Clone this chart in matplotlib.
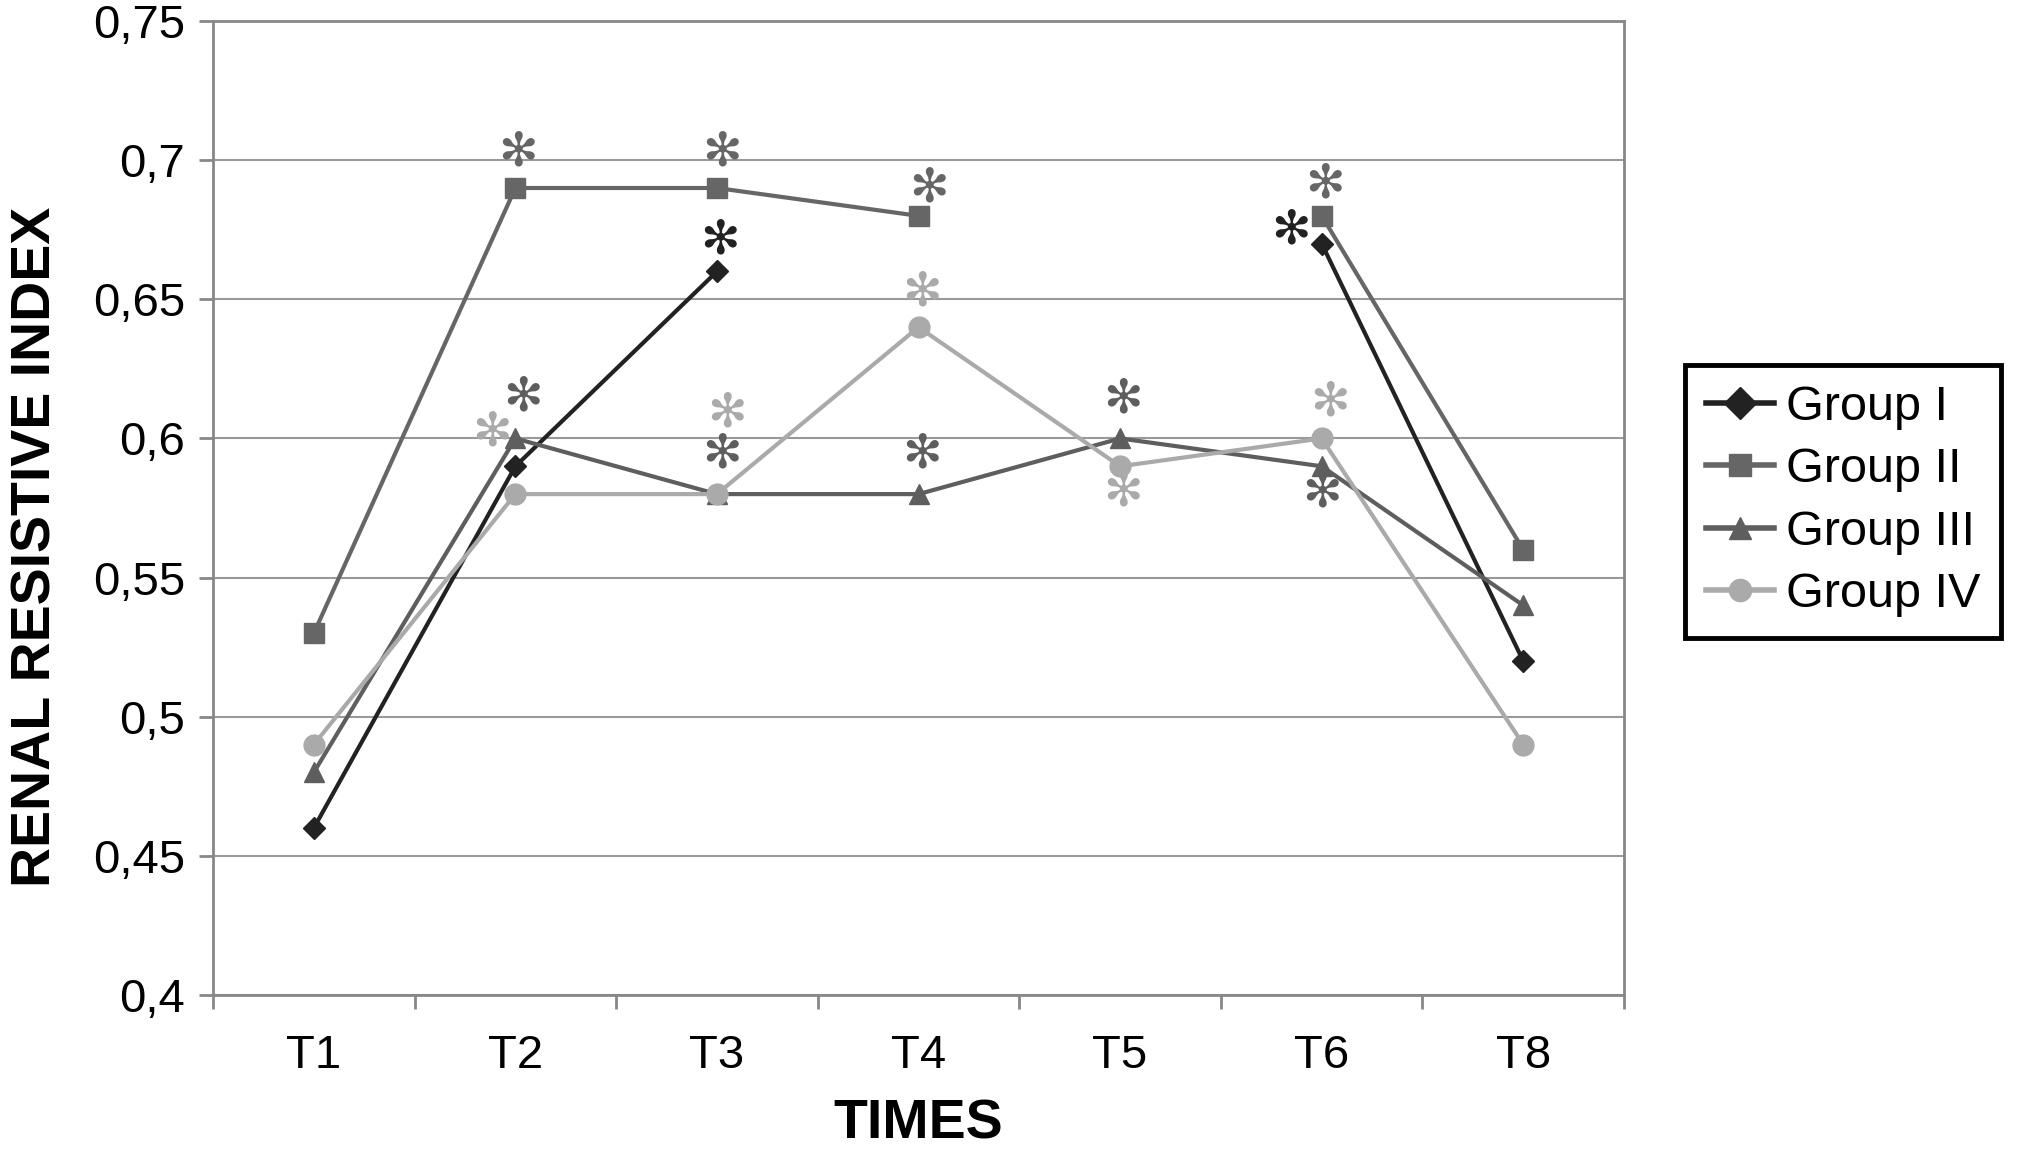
import numpy as np
import matplotlib.pyplot as plt

times = ["T1", "T2", "T3", "T4", "T5", "T6", "T8"]
groups = ["Group I", "Group II", "Group III", "Group IV"]
group_1 = [0.46, 0.59, 0.66, np.nan, np.nan, 0.67, 0.52]
group_2 = [0.53, 0.69, 0.69, 0.68, np.nan, 0.68, 0.56]
group_3 = [0.48, 0.60, 0.58, 0.58, 0.60, 0.59, 0.54]
group_4 = [0.49, 0.58, 0.58, 0.64, 0.59, 0.60, 0.49]

# significance asterisks: (group index, time index)
stars = [(1, 1), (1, 2), (1, 3), (0, 2), (3, 3), (2, 1), (3, 1), (3, 2),
         (2, 2), (2, 3), (2, 4), (3, 4), (1, 5), (0, 5), (3, 5), (2, 5)]
# pixel offsets of each asterisk from its point
star_offsets = [(3, 35), (5, 35), (10, 27), (3, 31), (3, 34), (8, 41), (-23, 61), (10, 80),
                (5, 39), (3, 39), (3, 39), (3, -27), (3, 31), (-31, 13), (8, 36), (0, -28)]

colors = ["#222222", "#666666", "#5e5e5e", "#aaaaaa"]
markers = ["D", "s", "^", "o"]
msizes = [11, 14, 15, 15]

plt.rcParams['font.family'] = ['Liberation Sans', 'DejaVu Sans']

fig = plt.figure(figsize=(20.23, 11.5), dpi=100)
ax = fig.add_axes([0.1053, 0.1348, 0.6975, 0.8469])

x = np.arange(len(times))
series = [group_1, group_2, group_3, group_4]
for i in range(4):
    ax.plot(x, series[i], color=colors[i], marker=markers[i], markersize=msizes[i],
            linewidth=3, label=groups[i], zorder=3)

for (g, t), (dx, dy) in zip(stars, star_offsets):
    ax.annotate("\u273B", (x[t], series[g][t]), xytext=(dx, dy), textcoords="offset pixels",
                ha="center", va="center", fontsize=34, color=colors[g],
                family="DejaVu Sans", zorder=4)

ax.set_xlim(-0.5, len(times) - 0.5)
ax.set_ylim(0.4, 0.75)
ax.set_yticks(np.arange(0.4, 0.751, 0.05))
ax.set_yticklabels(["0,4", "0,45", "0,5", "0,55", "0,6", "0,65", "0,7", "0,75"])
ax.set_xticks(x)
ax.set_xticklabels(times)
ax.set_xticks(np.arange(-0.5, len(times), 1), minor=True)
ax.tick_params(axis="x", which="major", length=0, pad=28, labelsize=34)
ax.tick_params(axis="x", which="minor", length=10, width=2, color="#888888")
ax.tick_params(axis="y", length=10, width=2, color="#888888", pad=10, labelsize=34)
ax.grid(axis="y", color="#999999", linewidth=1.5)
ax.set_axisbelow(True)
for s in ax.spines.values():
    s.set_color("#888888")
    s.set_linewidth(2)

ax.set_xlabel("TIMES", fontsize=40, fontweight="bold", labelpad=15)
ax.set_ylabel("RENAL RESISTIVE INDEX", fontsize=40, fontweight="bold")
ax.yaxis.set_label_coords(-0.107, 0.46)

leg = ax.legend(loc="upper left", bbox_to_anchor=(0.833, 0.683), bbox_transform=fig.transFigure,
                fontsize=35, handlelength=1.4, handletextpad=0.25, labelspacing=0.36,
                borderpad=0.42, borderaxespad=0, fancybox=False, framealpha=1,
                edgecolor="black")
leg.get_frame().set_linewidth(3.5)
for h in leg.legend_handles:
    h.set_linewidth(4)
    h.set_markersize(16)

fig.savefig("out.png", dpi=100)
